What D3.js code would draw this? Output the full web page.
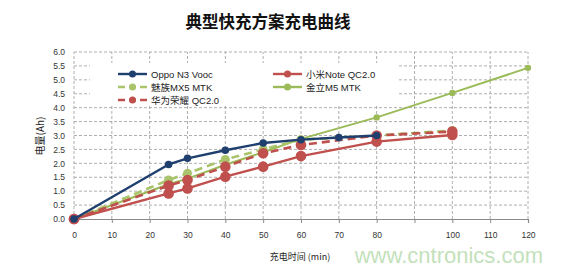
<!DOCTYPE html>
<html><head><meta charset="utf-8">
<script src="https://cdn.jsdelivr.net/npm/d3@7"></script>
<style>body{margin:0;background:#fff}svg{display:block}</style>
</head><body><svg id="c" width="563" height="270"></svg>
<script>
const title = "典型快充方案充电曲线";
const xTitle = "充电时间 (min)";
const yTitle = "电量(Ah)";
const xTicks = [0,10,20,30,40,50,60,70,80,90,100,110,120];
const xTickLabels = ["0","10","20","30","40","50","60","70","80","","100","110","120"];
const yTicks = [0,0.5,1,1.5,2,2.5,3,3.5,4,4.5,5,5.5,6];
const seriesNames = ["Oppo N3 Vooc","小米Note QC2.0","魅族MX5 MTK","金立M5 MTK","华为荣耀 QC2.0"];
const oppoX = [0,25,30,40,50,60,70,80];
const oppoY = [0,1.96,2.18,2.47,2.73,2.85,2.93,3.0];
const xiaomiX = [0,25,30,40,50,60,80,100];
const xiaomiY = [0,0.92,1.1,1.52,1.88,2.26,2.78,3.02];
const meizuX = [0,25,30,40,50,60,80,100];
const meizuY = [0,1.4,1.64,2.14,2.5,2.85,3.0,3.18];
const jinliX = [0,25,30,40,50,60,80,100,120];
const jinliY = [0,1.25,1.45,1.95,2.4,2.88,3.65,4.53,5.43];
const huaweiX = [0,25,30,40,50,60,80,100];
const huaweiY = [0,1.2,1.4,1.88,2.36,2.66,3.0,3.14];
const watermark = "www.cntronics.com";

const svg = d3.select("#c");
const x = d3.scaleLinear().domain([0,120]).range([74,528]);
const y = d3.scaleLinear().domain([0,6]).range([219,52]);

svg.append("text").attr("x",268).attr("y",28).attr("text-anchor","middle")
  .attr("font-family","'Noto Sans CJK SC'").attr("font-weight","bold").attr("font-size",16.5)
  .attr("fill","#111").text(title);

// grid
const grid = svg.append("g").attr("stroke","#9a9a9a").attr("stroke-width",0.8).attr("stroke-dasharray","3,2");
yTicks.slice(1).forEach(v=>grid.append("line").attr("x1",x(0)).attr("x2",x(120)).attr("y1",y(v)).attr("y2",y(v)));
xTicks.forEach(v=>grid.append("line").attr("x1",x(v)).attr("x2",x(v)).attr("y1",y(0)).attr("y2",y(6)));

// x axis
const xa = svg.append("g").attr("transform",`translate(0,${y(0)})`)
  .call(d3.axisBottom(x).tickValues(xTicks).tickFormat((d,i)=>xTickLabels[i]).tickSize(4).tickPadding(9));
xa.select(".domain").attr("stroke","#8a8a8a").attr("stroke-width",1.2);
xa.selectAll(".tick line").attr("stroke","#8a8a8a");
xa.selectAll("text").attr("font-family","'Liberation Sans'").attr("font-size",8.5).attr("fill","#333");

// y axis
const ya = svg.append("g").attr("transform",`translate(${x(0)},0)`)
  .call(d3.axisLeft(y).tickValues(yTicks).tickFormat(d3.format(".1f")).tickSize(0).tickPadding(9));
ya.select(".domain").remove();
ya.selectAll("text").attr("font-family","'Liberation Sans'").attr("font-size",8.5).attr("fill","#333");

svg.append("text").attr("transform","translate(44,136) rotate(-90)").attr("text-anchor","middle")
  .attr("font-family","'Noto Sans CJK SC'").attr("font-size",10).attr("fill","#222").text(yTitle);
svg.append("text").attr("x",300).attr("y",260).attr("text-anchor","middle")
  .attr("font-family","'Noto Sans CJK SC'").attr("font-size",9).attr("fill","#222").text(xTitle);

// legend background
svg.append("rect").attr("x",90).attr("y",63).attr("width",308).attr("height",43).attr("fill","#fff");

const series = [
  {n:seriesNames[3], xs:jinliX, ys:jinliY, c:"#9bbb59", dash:null, r:3.2, w:2},
  {n:seriesNames[2], xs:meizuX, ys:meizuY, c:"#a9c46a", dash:"8,5", r:4.5, w:2.6},
  {n:seriesNames[1], xs:xiaomiX, ys:xiaomiY, c:"#c0504d", dash:null, r:5.3, w:2.4},
  {n:seriesNames[4], xs:huaweiX, ys:huaweiY, c:"#c0504d", dash:"8,5", r:5.3, w:2.6},
  {n:seriesNames[0], xs:oppoX, ys:oppoY, c:"#1f3f6e", dash:null, r:3.8, w:2.4}
];
const line = d3.line().x(d=>x(d[0])).y(d=>y(d[1]));
series.forEach(s=>{
  const pts = s.xs.map((v,i)=>[v,s.ys[i]]);
  svg.append("path").attr("d",line(pts)).attr("fill","none").attr("stroke",s.c)
    .attr("stroke-width",s.w).attr("stroke-dasharray",s.dash).attr("stroke-linejoin","round");
  svg.append("g").selectAll("circle").data(pts).join("circle")
    .attr("cx",d=>x(d[0])).attr("cy",d=>y(d[1])).attr("r",s.r).attr("fill",s.c);
});

// legend
const leg = [
  {n:seriesNames[0], c:"#1f3f6e", dash:null, lx:118, ly:74},
  {n:seriesNames[2], c:"#a9c46a", dash:"7,4", lx:118, ly:87},
  {n:seriesNames[4], c:"#c0504d", dash:"7,4", lx:118, ly:100},
  {n:seriesNames[1], c:"#c0504d", dash:null, lx:273, ly:74},
  {n:seriesNames[3], c:"#9bbb59", dash:null, lx:273, ly:87}
];
leg.forEach(l=>{
  svg.append("line").attr("x1",l.lx).attr("x2",l.lx+29).attr("y1",l.ly).attr("y2",l.ly)
    .attr("stroke",l.c).attr("stroke-width",2.4).attr("stroke-dasharray",l.dash);
  svg.append("circle").attr("cx",l.lx+14.5).attr("cy",l.ly).attr("r",3.5).attr("fill",l.c);
  svg.append("text").attr("x",l.lx+33).attr("y",l.ly+3.5)
    .attr("font-family","'Liberation Sans','Noto Sans CJK SC'").attr("font-size",9.5).attr("fill","#222").text(l.n);
});

svg.append("text").attr("x",543).attr("y",263).attr("text-anchor","end")
  .attr("font-family","'Liberation Sans'").attr("font-size",22).attr("fill","#b9dcb0").attr("opacity",0.85).text(watermark);
</script></body></html>
